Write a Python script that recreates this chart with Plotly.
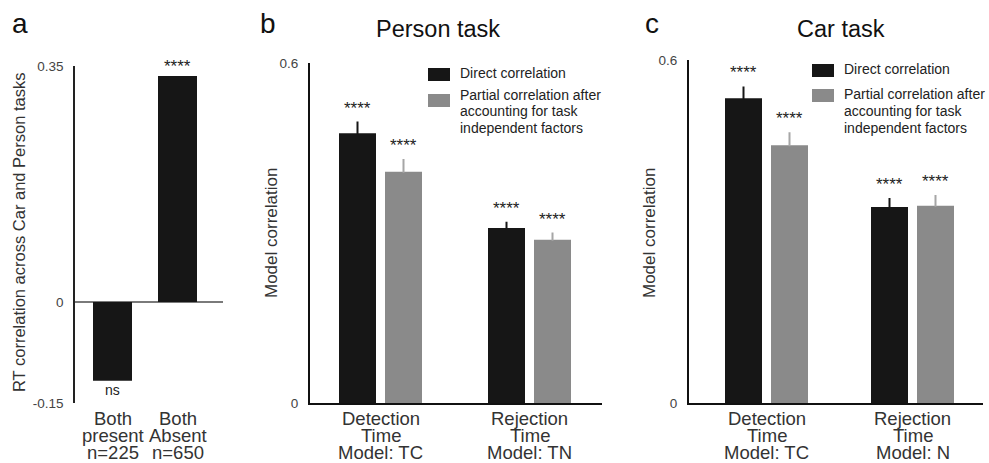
import plotly.graph_objects as go

# ---------------- data ----------------
a_categories = [["Both", "present", "n=225"], ["Both", "Absent", "n=650"]]
a_values = [-0.117, 0.335]
a_labels = ["ns", "****"]

series_names = ["Direct correlation",
                ["Partial correlation after", "accounting for task", "independent factors"]]

b_categories = [["Detection", "Time", "Model: TC"], ["Rejection", "Time", "Model: TN"]]
b_direct = [0.476, 0.309]
b_direct_err = [0.019, 0.009]
b_partial = [0.408, 0.288]
b_partial_err = [0.021, 0.011]
b_direct_sig = ["****", "****"]
b_partial_sig = ["****", "****"]

c_categories = [["Detection", "Time", "Model: TC"], ["Rejection", "Time", "Model: N"]]
c_direct = [0.533, 0.343]
c_direct_err = [0.019, 0.014]
c_partial = [0.451, 0.345]
c_partial_err = [0.021, 0.017]
c_direct_sig = ["****", "****"]
c_partial_sig = ["****", "****"]

# ---------------- layout helpers ----------------
W, H = 989, 463
FONT = "Liberation Sans, Arial, sans-serif"
BLACK = "#161616"
GRAY = "#8a8a8a"
ERRGRAY = "#a6a6a6"
TICKC = "#444444"


def fx(p):
    return p / W


def fy(p):
    return 1 - p / H


fig = go.Figure()
annotations = []
shapes = []


def note(x, y, text, size, color="#222", xref="paper", yref="paper", xanchor="center",
         yanchor="middle", textangle=0, yshift=0):
    annotations.append(dict(x=x, y=y, xref=xref, yref=yref, text=text, showarrow=False,
                            xanchor=xanchor, yanchor=yanchor, textangle=textangle, yshift=yshift,
                            font=dict(size=size, color=color, family=FONT)))


# ---------------- panel a ----------------
xa = list(range(len(a_values)))
fig.add_trace(go.Bar(x=xa, y=a_values, width=0.6, marker=dict(color=BLACK, line=dict(width=0)),
                     xaxis="x", yaxis="y", showlegend=False))
for i, (v, lab) in enumerate(zip(a_values, a_labels)):
    if v > 0:
        note(i, v, lab, 17, xref="x", yref="y", yanchor="bottom", yshift=-2)
    else:
        note(i, v, lab, 14, xref="x", yref="y", yanchor="top", yshift=1)


# ---------------- panels b and c ----------------
def grouped(xax, yax, direct, derr, partial, perr, dsig, psig, width, gap):
    x = list(range(len(direct)))
    off_d = -(width + gap / 2)
    off_p = gap / 2
    fig.add_trace(go.Bar(x=x, y=direct, width=width, offset=off_d,
                         marker=dict(color=BLACK, line=dict(width=0)),
                         error_y=dict(type="data", array=derr, arrayminus=[0] * len(derr), symmetric=False,
                                      color=BLACK, thickness=2, width=1),
                         xaxis=xax, yaxis=yax, showlegend=False))
    fig.add_trace(go.Bar(x=x, y=partial, width=width, offset=off_p,
                         marker=dict(color=GRAY, line=dict(width=0)),
                         error_y=dict(type="data", array=perr, arrayminus=[0] * len(perr), symmetric=False,
                                      color=ERRGRAY, thickness=2, width=1),
                         xaxis=xax, yaxis=yax, showlegend=False))
    for i in x:
        note(i + off_d + width / 2, direct[i] + derr[i], dsig[i], 17, xref=xax, yref=yax,
             yanchor="bottom", yshift=3)
        note(i + off_p + width / 2, partial[i] + perr[i], psig[i], 17, xref=xax, yref=yax,
             yanchor="bottom", yshift=3)


grouped("x2", "y2", b_direct, b_direct_err, b_partial, b_partial_err, b_direct_sig, b_partial_sig,
        37 / 149, 9 / 149)
grouped("x3", "y3", c_direct, c_direct_err, c_partial, c_partial_err, c_direct_sig, c_partial_sig,
        37 / 146, 9 / 146)

# ---------------- category labels (tight line spacing) ----------------
line_y = [418, 435, 452]
for xref, cats in (("x", a_categories), ("x2", b_categories), ("x3", c_categories)):
    for i, lines in enumerate(cats):
        for j, t in enumerate(lines):
            note(i, fy(line_y[j]), t, 18.5, color="#333", xref=xref)

# ---------------- axis titles, panel titles, panel letters ----------------
note(fx(19), fy(233), "RT correlation across Car and Person tasks", 16.5, color="#333", textangle=-90)
note(fx(272), fy(233), "Model correlation", 17, color="#333", textangle=-90)
note(fx(650), fy(233), "Model correlation", 17, color="#333", textangle=-90)
note(fx(438), fy(29), "Person task", 23.5, color="#111")
note(fx(841), fy(29), "Car task", 23.5, color="#111")
note(fx(20), fy(24), "a", 28, color="#111")
note(fx(268), fy(24), "b", 28, color="#111")
note(fx(652), fy(24), "c", 28, color="#111")


# ---------------- legends ----------------
def legend(x0, y_black, y_gray, text_x, text_ys):
    shapes.append(dict(type="rect", xref="paper", yref="paper", x0=fx(x0), x1=fx(x0 + 22),
                       y0=fy(y_black + 13), y1=fy(y_black), fillcolor=BLACK, line=dict(width=0)))
    shapes.append(dict(type="rect", xref="paper", yref="paper", x0=fx(x0), x1=fx(x0 + 22),
                       y0=fy(y_gray + 13), y1=fy(y_gray), fillcolor=GRAY, line=dict(width=0)))
    texts = [series_names[0]] + list(series_names[1])
    for t, ty in zip(texts, text_ys):
        note(fx(text_x), fy(ty), t, 14, xanchor="left")


legend(428, 68, 94, 458, [73, 95, 111, 128])
legend(812, 64, 89, 842, [69, 94, 111, 128])

# ---------------- axes ----------------
common_x = dict(showgrid=False, zeroline=False, showticklabels=False, ticks="", fixedrange=True,
                automargin=False)
common_y = dict(showgrid=False, ticks="", ticklabelstandoff=7, automargin=False, fixedrange=True,
                tickfont=dict(size=13.5, color=TICKC, family=FONT))
fig.update_layout(
    template="none",
    xaxis=dict(domain=[fx(75), fx(223)], range=[-(112.5 - 75) / 65, 1 + (223 - 177.5) / 65],
               anchor="y", showline=False, **common_x),
    yaxis=dict(domain=[fy(403), fy(66)], range=[-0.15, 0.35], anchor="x",
               showline=True, linecolor="#222", linewidth=1.5,
               zeroline=True, zerolinecolor="#7a7a7a", zerolinewidth=2,
               tickvals=[-0.15, 0, 0.35], ticktext=["-0.15", "0", "0.35"], **common_y),
    xaxis2=dict(domain=[fx(310), fx(602)], range=[-(380.5 - 310) / 149, 1 + (602 - 529.5) / 149],
                anchor="y2", showline=True, linecolor="#111", linewidth=2, **common_x),
    yaxis2=dict(domain=[fy(403), fy(63)], range=[0, 0.6], anchor="x2",
                showline=True, linecolor="#111", linewidth=2, zeroline=False,
                tickvals=[0, 0.6], ticktext=["0", "0.6"], **common_y),
    xaxis3=dict(domain=[fx(689), fx(983)], range=[-(766.5 - 689) / 146, 1 + (983 - 912.5) / 146],
                anchor="y3", showline=True, linecolor="#111", linewidth=2, **common_x),
    yaxis3=dict(domain=[fy(403), fy(60)], range=[0, 0.6], anchor="x3",
                showline=True, linecolor="#111", linewidth=2, zeroline=False,
                tickvals=[0, 0.6], ticktext=["0", "0.6"], **common_y),
    barmode="overlay",
    width=W, height=H,
    margin=dict(l=0, r=0, t=0, b=0, pad=0),
    paper_bgcolor="white", plot_bgcolor="white",
    font=dict(family=FONT),
    annotations=annotations,
    shapes=shapes,
)

fig.write_html("out.html", config={"displayModeBar": False},
               post_script="document.body.style.margin='0';document.body.style.overflow='hidden';")
